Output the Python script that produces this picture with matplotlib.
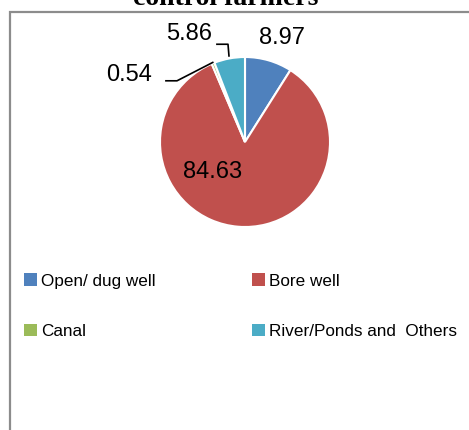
import matplotlib.pyplot as plt
import matplotlib.patches as mpatches
import numpy as np

# sources of irrigation, control farmers (%)
labels = ['Open/ dug well', 'Bore well', 'Canal', 'River/Ponds and  Others']
values = [8.97, 84.63, 0.54, 5.86]
colors = ['#4F81BD', '#C0504D', '#9BBB59', '#4BACC6']

W, H = 469, 430
fig = plt.figure(figsize=(W / 100, H / 100), dpi=100)

def px(x, y, w=0, h=0):
    # pixel box (top-left origin) -> figure fraction
    return [x / W, 1 - (y + h) / H, w / W, h / H]

# chart area border (cut at right / bottom like the source)
fig.patches.append(mpatches.Rectangle((10 / W, -0.1), 1.2, 1 - 12 / H + 0.1,
                                      transform=fig.transFigure, fill=False,
                                      edgecolor='#8c8c8c', linewidth=1.6))

# title, mostly cropped away at the top
fig.text(226 / W, 1 - 5 / H, 'control farmers', ha='center', va='baseline',
         family='Liberation Serif', weight='bold', fontsize=20)

cx, cy, r = 245, 142, 85
ax = fig.add_axes(px(cx - r, cy - r, 2 * r, 2 * r))
wedges, _ = ax.pie(values, colors=colors, startangle=90, counterclock=False,
                   wedgeprops=dict(edgecolor='white', linewidth=1.5))
ax.set_xlim(-1, 1)
ax.set_ylim(-1, 1)
ax.set_aspect('equal')
ax.axis('off')

font = 'Liberation Sans'
# data labels
mids = [np.deg2rad((w.theta1 + w.theta2) / 2) for w in wedges]
ax.text(0.44, 1.22, f'{values[0]:.2f}', ha='center', va='center', fontsize=17, family=font, clip_on=False)
ax.text(-0.38, -0.35, f'{values[1]:.2f}', ha='center', va='center', fontsize=17, family=font)
ax.text(-1.36, 0.79, f'{values[2]:.2f}', ha='center', va='center', fontsize=17, family=font, clip_on=False)
ax.text(-0.66, 1.27, f'{values[3]:.2f}', ha='center', va='center', fontsize=17, family=font, clip_on=False)

# leader lines
m = mids[2]
ex, ey = np.cos(m) * 1.01, np.sin(m) * 1.01
ax.plot([-0.93, -0.8, ex], [0.72, 0.72, ey], color='black', lw=1.2, clip_on=False)
m = mids[3]
ex, ey = np.cos(m) * 1.03, np.sin(m) * 1.03
ax.plot([-0.33, -0.2, ex], [1.15, 1.15, ey], color='black', lw=1.2, clip_on=False)

# legend: two columns, row-wise order
order = [0, 2, 1, 3]
handles = [mpatches.Patch(facecolor=colors[i], edgecolor='none') for i in order]
fig.legend(handles, [labels[i] for i in order], ncol=2, loc='upper left',
           bbox_to_anchor=(9 / W, 1 - 258 / H), frameon=False,
           prop=dict(family=font, size=12.3), handlelength=0.75, handleheight=0.75,
           handletextpad=0.25, columnspacing=5.6, labelspacing=2.05)

plt.savefig('out.png', dpi=100)
